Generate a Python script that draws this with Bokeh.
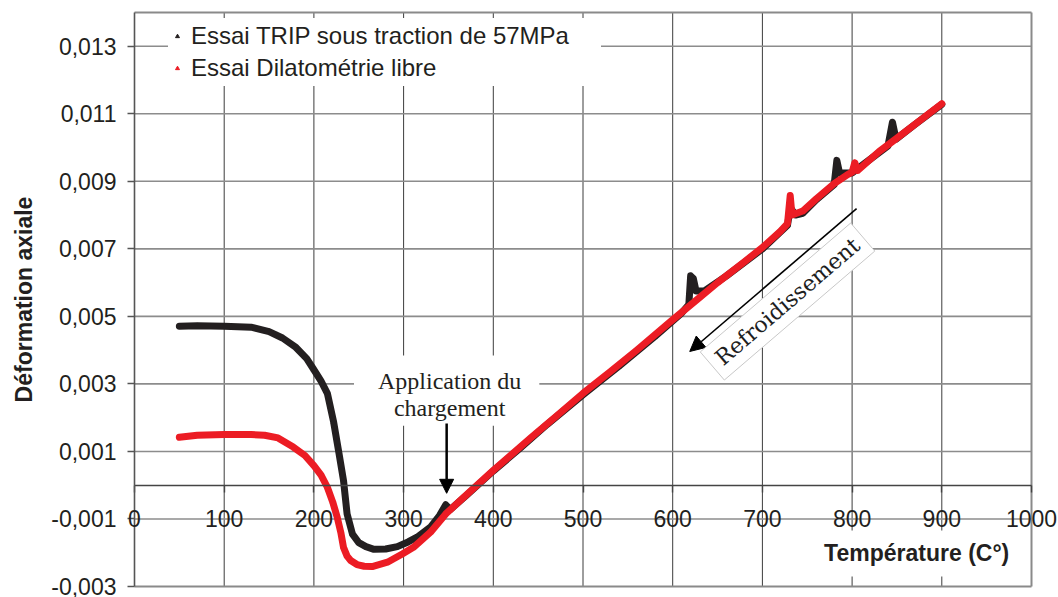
from bokeh.plotting import figure
from bokeh.models import (Range1d, LinearAxis, FixedTicker, CustomJSTickFormatter,
                          Legend, LegendItem, Label, Arrow, NormalHead,
                          ColumnDataSource)
from bokeh.embed import file_html
from bokeh.resources import INLINE

# --- data -------------------------------------------------------------------
# TRIP test under 57 MPa load (black)
trip_temp = [50, 70, 100, 130, 150, 165, 180, 192, 200, 208, 215, 222, 228, 233,
             237, 243, 250, 258, 267, 280, 293, 305, 315, 330, 340, 347,
             352, 370, 400, 430, 460, 500, 540, 580, 610, 618, 620, 623, 626,
             635, 660, 700, 728, 731, 737, 745, 760, 780, 783, 786, 800, 820,
             840, 845, 849, 870, 900]
trip_strain = [0.00471, 0.00472, 0.00471, 0.00468, 0.00455, 0.00436, 0.00408,
               0.00375, 0.00342, 0.00308, 0.00272, 0.00187, 0.00094, 0.00014,
               -0.00085, -0.00145, -0.00170, -0.00182, -0.00190, -0.00189,
               -0.00182, -0.00168, -0.00154, -0.00124, -0.00090, -0.00058,
               -0.00072, -0.00030, 0.00042, 0.00110, 0.00180, 0.00268, 0.00352,
               0.00440, 0.00510, 0.00535, 0.00620, 0.00612, 0.00575, 0.00575,
               0.00620, 0.00700, 0.00770, 0.00822, 0.00800, 0.00805, 0.00845,
               0.00890, 0.00962, 0.00925, 0.00925, 0.00965, 0.01005, 0.01075,
               0.01025, 0.01068, 0.01128]

# free dilatometry test (red)
dil_temp = [50, 70, 100, 130, 145, 160, 177, 190, 200, 208, 215, 221, 226, 230,
            233, 237, 241, 248, 256, 265, 282, 299, 311, 330, 347, 367, 400,
            442, 470, 500, 530, 560, 600, 630, 650, 680, 700, 720, 728, 731,
            733, 745, 760, 780, 795, 800, 803, 806, 830, 850, 880, 900]
dil_strain = [0.00142, 0.00148, 0.00150, 0.00150, 0.00148, 0.00140, 0.00113,
              0.00088, 0.00058, 0.00030, -0.00006, -0.00050, -0.00095, -0.00140,
              -0.00184, -0.00210, -0.00223, -0.00235, -0.00240, -0.00241,
              -0.00228, -0.00203, -0.00184, -0.00139, -0.00085, -0.00036,
              0.00044, 0.00141, 0.00204, 0.00272, 0.00335, 0.00400, 0.00490,
              0.00556, 0.00600, 0.00662, 0.00704, 0.00752, 0.00775, 0.00858,
              0.00800, 0.00812, 0.00848, 0.00893, 0.00920, 0.00927, 0.00955,
              0.00932, 0.00988, 0.01028, 0.01089, 0.01130]

x_ticks = [0, 100, 200, 300, 400, 500, 600, 700, 800, 900, 1000]
x_tick_labels = [str(t) for t in x_ticks]
y_ticks = [-0.003, -0.001, 0.001, 0.003, 0.005, 0.007, 0.009, 0.011, 0.013]

series_names = ["Essai TRIP sous traction de 57MPa", "Essai Dilatométrie libre"]

BLACK = "#231f20"
RED = "#ec1c24"
BORDER = "#8a8a8a"
SANS = "Liberation Sans"
SERIF = "Liberation Serif"

# --- layout -----------------------------------------------------------------
# The plotting frame covers the whole canvas so that tick labels sitting on the
# box edges are not clipped; the visible chart box spans X_LIM x Y_LIM.
W, H = 1058, 597
BOX_LEFT, BOX_RIGHT, BOX_TOP, BOX_BOTTOM = 134, 1031, 12, 586
X_LIM = (0, 1000)
Y_LIM = (-0.003, 0.014)
sx = (BOX_RIGHT - BOX_LEFT) / (X_LIM[1] - X_LIM[0])
sy = (BOX_BOTTOM - BOX_TOP) / (Y_LIM[1] - Y_LIM[0])
x_range = Range1d(X_LIM[0] - BOX_LEFT / sx, X_LIM[1] + (W - BOX_RIGHT) / sx)
y_range = Range1d(Y_LIM[0] - (H - BOX_BOTTOM) / sy, Y_LIM[1] + BOX_TOP / sy)

p = figure(width=W, height=H, output_backend="svg", toolbar_location=None,
           x_range=x_range, y_range=y_range,
           x_axis_location=None, y_axis_location=None,
           min_border=0, background_fill_color="white",
           border_fill_color="white")
p.outline_line_color = None
p.renderers = []
p.center = []

# grid lines limited to the chart box, then the box border
vx = x_ticks[1:-1]
p.segment(x0=vx, x1=vx, y0=[Y_LIM[0]] * len(vx), y1=[Y_LIM[1]] * len(vx),
          line_color="#3c3c3c", line_width=1, level="underlay")
hy = y_ticks[1:]
p.segment(x0=[X_LIM[0]] * len(hy), x1=[X_LIM[1]] * len(hy), y0=hy, y1=hy,
          line_color="#8c8c8c", line_width=1.6, level="underlay")
p.segment(x0=[X_LIM[0], X_LIM[0], X_LIM[1]], x1=[X_LIM[1], X_LIM[1], X_LIM[1]],
          y0=[Y_LIM[0], Y_LIM[1], Y_LIM[0]], y1=[Y_LIM[0], Y_LIM[1], Y_LIM[1]],
          line_color=BORDER, line_width=2, level="underlay")

# y axis along T = 0, comma decimals
yax = LinearAxis(fixed_location=0, bounds=Y_LIM, ticker=FixedTicker(ticks=y_ticks))
yax.formatter = CustomJSTickFormatter(code="return tick.toFixed(3).replace('.', ',');")
yax.major_label_text_font = SANS
yax.major_label_text_font_size = "23px"
yax.major_label_text_color = BLACK
yax.major_label_standoff = 11
yax.major_tick_out = 7
yax.major_tick_in = 0
yax.minor_tick_out = 0
yax.minor_tick_in = 0
yax.axis_line_color = "#555555"
yax.axis_line_width = 1.6
yax.major_tick_line_color = "#555555"
yax.major_tick_line_width = 1.4
yax.axis_label = "Déformation axiale"
yax.axis_label_text_font = SANS
yax.axis_label_text_font_style = "bold"
yax.axis_label_text_font_size = "23px"
yax.axis_label_text_color = BLACK
yax.axis_label_standoff = 11
p.add_layout(yax, "left")

# x axis line and ticks along strain = 0; numbers placed below it
xax = LinearAxis(fixed_location=0, bounds=X_LIM, ticker=FixedTicker(ticks=x_ticks))
xax.major_label_text_alpha = 0
xax.major_label_text_font_size = "1px"
xax.major_tick_out = 7
xax.major_tick_in = 0
xax.minor_tick_out = 0
xax.minor_tick_in = 0
xax.axis_line_color = "#444444"
xax.axis_line_width = 1.6
xax.major_tick_line_color = "#444444"
xax.major_tick_line_width = 1.4
p.add_layout(xax, "below")

for t, lab in zip(x_ticks, x_tick_labels):
    p.add_layout(Label(x=t, y=0, y_offset=-33, text=lab,
                       text_align="center", text_baseline="middle",
                       text_font=SANS, text_font_size="23px", text_color=BLACK))

# --- curves -----------------------------------------------------------------
trip_src = ColumnDataSource(dict(t=trip_temp, e=trip_strain))
dil_src = ColumnDataSource(dict(t=dil_temp, e=dil_strain))

trip_pts = p.scatter("t", "e", source=trip_src, marker="triangle", size=5,
                     color=BLACK)
p.line("t", "e", source=trip_src, line_color=BLACK, line_width=7,
       line_join="round", line_cap="round")
dil_pts = p.scatter("t", "e", source=dil_src, marker="triangle", size=5,
                    color=RED)
p.line("t", "e", source=dil_src, line_color=RED, line_width=7,
       line_join="round", line_cap="round")

legend = Legend(items=[LegendItem(label=series_names[0], renderers=[trip_pts]),
                       LegendItem(label=series_names[1], renderers=[dil_pts])],
                location=(BOX_LEFT + 34, H - BOX_BOTTOM + 500),
                padding=4, spacing=4, margin=0,
                glyph_width=10, glyph_height=28, label_height=28,
                label_width=406, label_standoff=9,
                label_text_font=SANS, label_text_font_size="24px",
                label_text_color=BLACK, border_line_alpha=0,
                background_fill_color="white", background_fill_alpha=1)
p.add_layout(legend)

# --- annotations ------------------------------------------------------------
p.add_layout(Label(x=348, y=0.0028, text="Application du\nchargement",
                   text_align="center", text_baseline="middle",
                   text_font=SERIF, text_font_size="24px", text_color=BLACK,
                   text_line_height=1.05,
                   background_fill_color="white", background_fill_alpha=1,
                   padding=dict(left=24, right=18, top=12, bottom=5)))
p.add_layout(Arrow(x_start=348, y_start=0.00183, x_end=348, y_end=-0.00024,
                   line_color="black", line_width=2.5,
                   end=NormalHead(size=14, fill_color="black", line_color="black")))

p.add_layout(Arrow(x_start=805, y_start=0.00819, x_end=619, y_end=0.00396,
                   line_color="black", line_width=1.6,
                   end=NormalHead(size=15, fill_color="black", line_color="black")))
p.add_layout(Label(x=728, y=0.00544, text="Refroidissement", angle=40.6,
                   angle_units="deg", text_align="center", text_baseline="middle",
                   text_font="DejaVu Serif", text_font_size="22px",
                   text_color="#1e1e1e",
                   background_fill_color="white", background_fill_alpha=1,
                   border_line_color="#c8c8c8", border_line_width=1,
                   padding=dict(left=8, right=8, top=6, bottom=6)))

p.add_layout(Label(x=872, y=-0.00202, text="Température (C°)",
                   text_align="center", text_baseline="middle",
                   text_font=SANS, text_font_style="bold",
                   text_font_size="23px", text_color=BLACK,
                   background_fill_color="white", background_fill_alpha=1,
                   padding=dict(left=6, right=6, top=10, bottom=10)))

open("out.html", "w").write(file_html(p, INLINE))
